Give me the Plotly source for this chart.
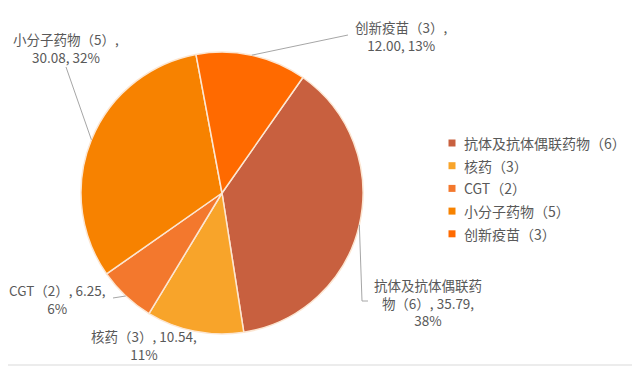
import math
import plotly.graph_objects as go

# ---------------- data ----------------
categories = ["抗体及抗体偶联药物（6）", "核药（3）", "CGT（2）", "小分子药物（5）", "创新疫苗（3）"]
values = [35.79, 10.54, 6.25, 30.08, 12.00]
percent_labels = ["38%", "11%", "6%", "32%", "13%"]

# ---------------- style ----------------
colors = ["#C8603F", "#F8A42A", "#F3782D", "#F78200", "#FF6A00"]
OFF = 8                              # page body margin of the html page
W, H = 640 - OFF, 375 - OFF          # figure size so it fits the window
CX, CY, R = 222, 193, 141            # pie centre / radius in window pixels
START_ANGLE = 35                     # degrees clockwise from 12 o'clock
TEXT_COLOR = "#595959"
FONT = "Noto Sans CJK SC, Noto Sans, sans-serif"

# label placement (window pixels), wrap width (in em) and leader-line waypoints
label_style = [
    dict(pos=(428, 302), wrap=8.5, leader=[(362, 301), (368, 301)]),
    dict(pos=(144, 345), wrap=9.0, leader=None),
    dict(pos=(57, 299), wrap=8.0, leader=[(113, 298)]),
    dict(pos=(66, 48), wrap=8.5, leader=[(66, 67)]),
    dict(pos=(401, 36), wrap=8.5, leader=[(348, 35)]),
]
legend_x, legend_y0, legend_dy = 452, 143, 22.7


def px(x, y):
    return (x - OFF) / W, 1 - (y - OFF) / H


def char_w(c):
    if c in " ,.":
        return 0.3
    if ord(c) > 0x2E80:
        return 1.0
    return 0.55


def wrap(text, width):
    tokens, buf = [], ""
    for c in text:
        if ord(c) > 0x2E80 or c == " ":
            if buf:
                tokens.append(buf)
                buf = ""
            tokens.append(c)
        else:
            buf += c
    if buf:
        tokens.append(buf)
    lines, cur, cw = [], "", 0.0
    for t in tokens:
        tw = sum(char_w(c) for c in t)
        if cw + tw > width and cur.strip():
            lines.append(cur.rstrip())
            cur, cw = ("" if t == " " else t), (0 if t == " " else tw)
        else:
            cur += t
            cw += tw
    if cur.strip():
        lines.append(cur.rstrip())
    return "<br>".join(lines)


fig = go.Figure()
dx0, dy1 = px(CX - R, CY - R)
dx1, dy0 = px(CX + R, CY + R)
fig.add_trace(go.Pie(
    labels=categories,
    values=values,
    sort=False,
    direction="clockwise",
    rotation=START_ANGLE,
    textinfo="none",
    hoverinfo="label+value+percent",
    showlegend=False,
    marker=dict(colors=colors, line=dict(color="#FCE6D2", width=1.5)),
    domain=dict(x=[dx0, dx1], y=[dy0, dy1]),
))

total = sum(values)
angle = START_ANGLE
shapes = []
annotations = []
for i, (name, v, pct, st) in enumerate(zip(categories, values, percent_labels, label_style)):
    span = v / total * 360
    mid = math.radians(angle + span / 2)
    angle += span
    ex, ey = CX + R * math.sin(mid), CY - R * math.cos(mid)
    text = wrap(f"{name}, {v:.2f}, {pct}", st["wrap"])
    lx, ly = px(*st["pos"])
    annotations.append(dict(
        x=lx, y=ly, xref="paper", yref="paper", text=text, showarrow=False,
        xanchor="center", yanchor="middle", align="center",
        font=dict(size=13.5, color=TEXT_COLOR, family=FONT),
    ))
    if st["leader"]:
        pts = [(ex, ey)] + st["leader"]
        path = "M " + " L ".join(f"{px(x, y)[0]:.5f},{px(x, y)[1]:.5f}" for x, y in pts)
        shapes.append(dict(type="path", xref="paper", yref="paper", path=path,
                           line=dict(color="#A6A6A6", width=1)))

    # legend entry
    ly_ = legend_y0 + i * legend_dy
    sx0, sy0 = px(legend_x - 3.5, ly_ - 3.5)
    sx1, sy1 = px(legend_x + 3.5, ly_ + 3.5)
    shapes.append(dict(type="rect", xref="paper", yref="paper",
                       x0=sx0, x1=sx1, y0=sy1, y1=sy0,
                       fillcolor=colors[i], line=dict(width=0)))
    tx, ty = px(legend_x + 10, ly_)
    annotations.append(dict(
        x=tx, y=ty, xref="paper", yref="paper", text=name, showarrow=False,
        xanchor="left", yanchor="middle", align="left",
        font=dict(size=14, color=TEXT_COLOR, family=FONT),
    ))

# outer frame
fx0, fy0 = px(3, 365)
fx1, _ = px(637.5, 0)
shapes.append(dict(type="rect", xref="paper", yref="paper",
                   x0=fx0, x1=fx1, y0=fy0, y1=1.05,
                   line=dict(color="#D9D9D9", width=1)))

fig.update_layout(
    width=W, height=H,
    margin=dict(l=0, r=0, t=0, b=0),
    paper_bgcolor="white", plot_bgcolor="white",
    font=dict(family=FONT, size=13, color=TEXT_COLOR),
    showlegend=False,
    shapes=shapes,
    annotations=annotations,
)

fig.write_html("out.html")
